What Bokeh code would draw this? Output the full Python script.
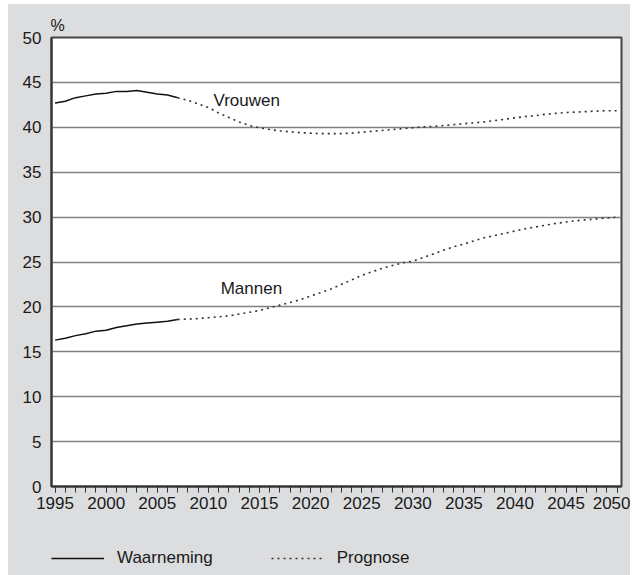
from bokeh.plotting import figure
from bokeh.layouts import column
from bokeh.models import Range1d, FixedTicker, Label, Legend, LegendItem, Title
from bokeh.embed import file_html
from bokeh.resources import INLINE

# ---- data ----
years_obs = list(range(1995, 2008))
vrouwen_obs = [42.7, 42.9, 43.3, 43.5, 43.7, 43.8, 44.0, 44.0, 44.1, 43.9, 43.7, 43.6, 43.3]
mannen_obs = [16.3, 16.5, 16.8, 17.0, 17.3, 17.4, 17.7, 17.9, 18.1, 18.2, 18.3, 18.4, 18.6]

years_prog = list(range(2007, 2051))
vrouwen_prog = [43.3, 43.0, 42.6, 42.2, 41.6, 41.1, 40.6, 40.2, 39.95, 39.75,
                39.6, 39.5, 39.4, 39.35, 39.3, 39.3, 39.3, 39.35, 39.45, 39.55,
                39.65, 39.75, 39.85, 39.95, 40.05, 40.1, 40.2, 40.3, 40.4, 40.5,
                40.6, 40.75, 40.9, 41.05, 41.2, 41.3, 41.45, 41.55, 41.65, 41.7,
                41.75, 41.8, 41.85, 41.85]
mannen_prog = [18.6, 18.65, 18.7, 18.8, 18.9, 19.0, 19.2, 19.4, 19.6, 19.9,
               20.2, 20.5, 20.8, 21.2, 21.6, 22.0, 22.5, 23.0, 23.5, 23.9,
               24.3, 24.6, 24.9, 25.1, 25.5, 25.9, 26.3, 26.7, 27.0, 27.35,
               27.7, 27.95, 28.2, 28.45, 28.7, 28.9, 29.1, 29.3, 29.45, 29.6,
               29.7, 29.8, 29.9, 30.0]

x_ticks = [1995, 2000, 2005, 2010, 2015, 2020, 2025, 2030, 2035, 2040, 2045, 2050]
x_minor = list(range(1995, 2051))
y_ticks = [0, 5, 10, 15, 20, 25, 30, 35, 40, 45, 50]

series_labels = ["Vrouwen", "Mannen"]
legend_labels = ["Waarneming", "Prognose"]
unit_label = "%"

FONT = "Liberation Sans"
FS = "17px"
BG = "#dcdddf"
TXT = "#1a1a1a"
SOLID = dict(line_color="#111111", line_width=1.5)
DOTTED = dict(line_color="#333333", line_width=1.6, line_dash="2 4")

p = figure(width=622, height=526, output_backend="svg", toolbar_location=None,
           x_range=Range1d(1994.65, 2050.42), y_range=Range1d(0, 50),
           min_border_left=43, min_border_right=9, min_border_top=33, min_border_bottom=44)
p.margin = 0
p.title = Title(text=unit_label, align="left", text_font=FONT, text_font_size="16px",
                text_font_style="normal", text_color=TXT, standoff=7, offset=-1)
p.border_fill_color = BG
p.background_fill_color = "white"
p.outline_line_color = "#444444"
p.outline_line_width = 2

# axes
p.xaxis.ticker = FixedTicker(ticks=x_ticks, minor_ticks=x_minor)
p.xaxis.major_tick_in = 0
p.xaxis.major_tick_out = 6
p.xaxis.minor_tick_in = 0
p.xaxis.minor_tick_out = 6
p.xaxis.major_tick_line_color = "#333333"
p.xaxis.minor_tick_line_color = "#333333"
p.xaxis.axis_line_color = "#333333"
p.xaxis.axis_line_width = 2
p.xaxis.major_label_standoff = 4
p.yaxis.ticker = FixedTicker(ticks=y_ticks)
p.yaxis.major_tick_out = 0
p.yaxis.major_tick_in = 0
p.yaxis.minor_tick_line_color = None
p.yaxis.axis_line_color = "#333333"
p.yaxis.axis_line_width = 2
p.yaxis.major_label_standoff = 10
for ax in (p.xaxis, p.yaxis):
    ax.major_label_text_font = FONT
    ax.major_label_text_font_size = FS
    ax.major_label_text_color = TXT

p.xgrid.grid_line_color = None
p.ygrid.ticker = FixedTicker(ticks=y_ticks)
p.ygrid.grid_line_color = "#808080"
p.ygrid.grid_line_width = 1.5

# lines
p.line(years_obs, vrouwen_obs, **SOLID)
p.line(years_obs, mannen_obs, **SOLID)
p.line(years_prog, vrouwen_prog, **DOTTED)
p.line(years_prog, mannen_prog, **DOTTED)

# series labels
p.add_layout(Label(x=2010.5, y=43.0, text=series_labels[0], text_font=FONT, text_font_size=FS,
                   text_color=TXT, text_baseline="middle", text_align="left"))
p.add_layout(Label(x=2011.2, y=22.0, text=series_labels[1], text_font=FONT, text_font_size=FS,
                   text_color=TXT, text_baseline="middle", text_align="left"))

# legend strip below the chart (its frame lines up with the chart frame)
pl = figure(width=622, height=45, output_backend="svg", toolbar_location=None,
            x_range=Range1d(0, 1), y_range=Range1d(0, 1),
            min_border_left=43, min_border_right=9, min_border_top=0, min_border_bottom=0,
            x_axis_location=None, y_axis_location=None)
pl.margin = 0
pl.border_fill_color = BG
pl.background_fill_color = BG
pl.outline_line_color = None
pl.grid.visible = False
# sample renderers carry the same series (outside this strip's view) for the legend keys
r_solid = pl.line(years_obs, vrouwen_obs, **SOLID)
r_dot = pl.line(years_prog, vrouwen_prog, **DOTTED)
legend = Legend(items=[LegendItem(label=legend_labels[0], renderers=[r_solid]),
                       LegendItem(label=legend_labels[1], renderers=[r_dot])],
                orientation="horizontal", location=(0, 7),
                padding=0, margin=0, spacing=58, glyph_width=53, glyph_height=20,
                label_standoff=13, label_height=20,
                label_text_font=FONT, label_text_font_size=FS, label_text_color=TXT,
                background_fill_alpha=0, border_line_alpha=0)
pl.add_layout(legend, "center")

layout = column(p, pl, spacing=0, margin=(4, 0, 0, 8), styles={"background-color": BG})
open("out.html", "w").write(file_html(layout, INLINE))
